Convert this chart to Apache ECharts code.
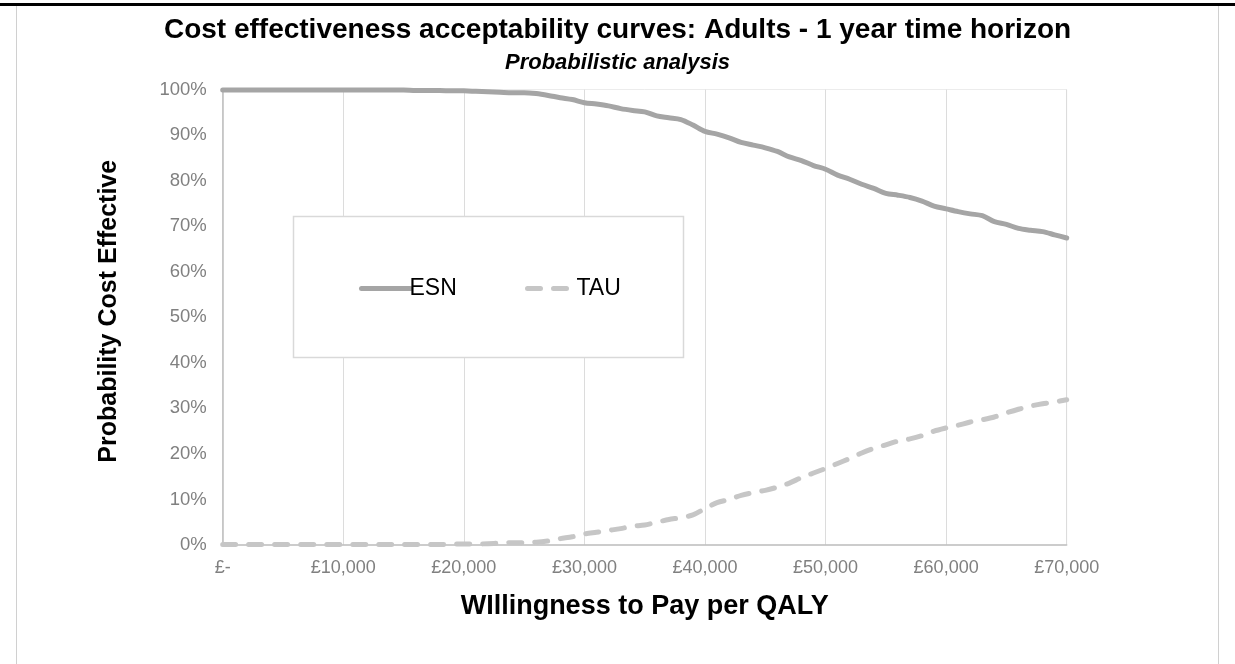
<!DOCTYPE html>
<html>
<head>
<meta charset="utf-8">
<script src="https://cdn.jsdelivr.net/npm/echarts@6/dist/echarts.min.js"></script>
<style>
html,body{margin:0;padding:0;background:#fff;}
#chart{width:1235px;height:664px;}
</style>
</head>
<body>
<div id="chart"></div>
<script>
// Willingness to pay thresholds (£ per QALY)
const wtp = [0,1000,2000,3000,4000,5000,6000,7000,8000,9000,10000,11000,12000,13000,14000,15000,16000,17000,18000,19000,20000,21000,22000,23000,24000,25000,26000,27000,28000,29000,30000,31000,32000,33000,34000,35000,36000,37000,38000,39000,40000,41000,42000,43000,44000,45000,46000,47000,48000,49000,50000,51000,52000,53000,54000,55000,56000,57000,58000,59000,60000,61000,62000,63000,64000,65000,66000,67000,68000,69000,70000];
// Probability cost effective (%)
const esn = [99.9,99.9,99.9,99.9,99.9,99.9,99.9,99.9,99.9,99.9,99.9,99.9,99.9,99.9,99.9,99.9,99.8,99.8,99.8,99.7,99.7,99.6,99.5,99.4,99.3,99.3,99.1,98.7,98.2,97.8,97.1,96.8,96.4,95.8,95.4,95.1,94.2,93.8,93.4,92.2,90.8,90.2,89.4,88.4,87.8,87.2,86.4,85.2,84.4,83.3,82.5,81.2,80.3,79.2,78.3,77.2,76.8,76.3,75.5,74.4,73.8,73.2,72.7,72.3,71.0,70.4,69.5,69.1,68.8,68.1,67.4];
const tau = [0.1,0.1,0.1,0.1,0.1,0.1,0.1,0.1,0.1,0.1,0.1,0.1,0.1,0.1,0.1,0.1,0.1,0.1,0.1,0.2,0.2,0.2,0.3,0.4,0.5,0.5,0.6,0.9,1.4,1.8,2.4,2.8,3.2,3.6,4.1,4.4,5.0,5.6,6.0,6.6,8.0,9.3,10.0,10.9,11.5,12.0,12.7,13.6,14.8,15.8,16.8,17.9,19.0,20.2,21.2,22.0,22.8,23.3,24.0,25.0,25.7,26.3,27.0,27.5,28.1,29.0,29.8,30.5,31.0,31.4,31.9];
const seriesNames = ['ESN','TAU'];
const titleText = 'Cost effectiveness acceptability curves: Adults - 1 year time horizon';
const subtitleText = 'Probabilistic analysis';
const xAxisName = 'WIllingness to Pay per QALY';
const yAxisName = 'Probability Cost Effective';

const chart = echarts.init(document.getElementById('chart'), null, {renderer:'canvas'});
const font = 'Liberation Sans, Arial, sans-serif';
const fmtX = v => v === 0 ? '£-' : '£' + v.toLocaleString('en-GB');
const esnColor = '#a5a5a5', tauColor = '#c6c6c6';
const tauDash = [13,13];

chart.setOption({
  animation:false,
  backgroundColor:'#fff',
  textStyle:{fontFamily:font},
  title:{
    text:titleText, subtext:subtitleText, left:'center', top:11, itemGap:8,
    textStyle:{fontFamily:font,fontSize:28,fontWeight:'bold',color:'#000'},
    subtextStyle:{fontFamily:font,fontSize:22,fontWeight:'bold',fontStyle:'italic',color:'#000'}
  },
  graphic:[
    {type:'rect',shape:{x:0,y:3,width:1235,height:3},style:{fill:'#000'},silent:true},
    {type:'line',shape:{x1:16.5,y1:6,x2:16.5,y2:664},style:{stroke:'#d0d0d0',lineWidth:1},silent:true},
    {type:'line',shape:{x1:1218.5,y1:6,x2:1218.5,y2:664},style:{stroke:'#d0d0d0',lineWidth:1},silent:true},
    {type:'rect',shape:{x:293.5,y:216.5,width:390,height:141},style:{fill:'#fff',stroke:'#d9d9d9',lineWidth:1.5},z:50,silent:true}
  ],
  legend:[
    {data:[{name:seriesNames[0],lineStyle:{color:esnColor,width:5,cap:'round',type:'solid'}}],
     left:359, top:277, padding:0, itemWidth:49, itemHeight:26, z:60,
     itemStyle:{opacity:0},
     textStyle:{fontFamily:font,fontSize:23,color:'#000',padding:[0,0,0,-6]}},
    {data:[{name:seriesNames[1],lineStyle:{color:tauColor,width:5,cap:'round',type:tauDash}}],
     left:525, top:277, padding:0, itemWidth:43, itemHeight:26, z:60,
     itemStyle:{opacity:0},
     textStyle:{fontFamily:font,fontSize:23,color:'#000',padding:[0,0,0,1]}}
  ],
  grid:{left:222.7,right:168.3,top:89.5,bottom:119,show:true,borderColor:'#ececec',borderWidth:1,backgroundColor:'transparent'},
  xAxis:{
    type:'value',min:0,max:70000,interval:10000,
    name:xAxisName,nameLocation:'middle',nameGap:48,
    nameTextStyle:{fontFamily:font,fontSize:27,fontWeight:'bold',color:'#000'},
    axisLine:{lineStyle:{color:'#bfbfbf',width:1.5}},
    axisTick:{show:false},
    axisLabel:{formatter:fmtX,fontFamily:font,fontSize:18,color:'#808080',margin:14},
    splitLine:{show:true,lineStyle:{color:'#dcdcdc',width:1}}
  },
  yAxis:{
    type:'value',min:0,max:100,interval:10,
    name:yAxisName,nameLocation:'middle',nameGap:101,
    nameTextStyle:{fontFamily:font,fontSize:25,fontWeight:'bold',color:'#000',padding:[0,0,0,12]},
    axisLine:{show:true,lineStyle:{color:'#bfbfbf',width:1.5}},
    axisTick:{show:false},
    axisLabel:{formatter:v=>v+'%',fontFamily:font,fontSize:18.5,color:'#808080',margin:16},
    splitLine:{show:false}
  },
  series:[
    {name:seriesNames[0],type:'line',data:wtp.map((x,i)=>[x,esn[i]]),showSymbol:false,symbol:'none',smooth:0.3,
     lineStyle:{color:esnColor,width:5,cap:'round',join:'round'},itemStyle:{color:esnColor}},
    {name:seriesNames[1],type:'line',data:wtp.map((x,i)=>[x,tau[i]]),showSymbol:false,symbol:'none',smooth:0.3,
     lineStyle:{color:tauColor,width:5,type:tauDash,cap:'round',join:'round'},itemStyle:{color:tauColor}}
  ]
});
</script>
</body>
</html>
